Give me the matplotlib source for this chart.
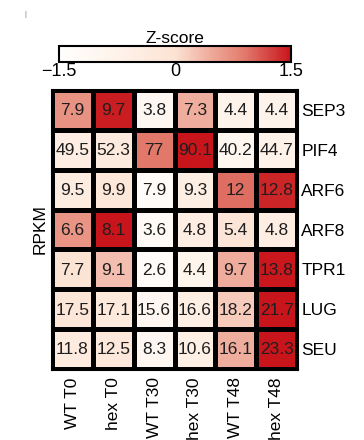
import numpy as np
import matplotlib.pyplot as plt
from matplotlib.colors import LinearSegmentedColormap

genes = ["SEP3", "PIF4", "ARF6", "ARF8", "TPR1", "LUG", "SEU"]
samples = ["WT T0", "hex T0", "WT T30", "hex T30", "WT T48", "hex T48"]

sep3 = [7.9, 9.7, 3.8, 7.3, 4.4, 4.4]
pif4 = [49.5, 52.3, 77, 90.1, 40.2, 44.7]
arf6 = [9.5, 9.9, 7.9, 9.3, 12, 12.8]
arf8 = [6.6, 8.1, 3.6, 4.8, 5.4, 4.8]
tpr1 = [7.7, 9.1, 2.6, 4.4, 9.7, 13.8]
lug = [17.5, 17.1, 15.6, 16.6, 18.2, 21.7]
seu = [11.8, 12.5, 8.3, 10.6, 16.1, 23.3]

rpkm = np.array([sep3, pif4, arf6, arf8, tpr1, lug, seu])

# row z-scores give the cell colours
z = (rpkm - rpkm.mean(axis=1, keepdims=True)) / rpkm.std(axis=1, ddof=1, keepdims=True)

cmap = LinearSegmentedColormap.from_list(
    "wr", [(0.0, "#fffefd"), (0.25, "#fef3ea"), (0.5, "#fce3d4"),
           (0.65, "#efac9c"), (0.8, "#e27a6c"), (1.0, "#c8151b")])

plt.rcParams['font.family'] = ['Liberation Sans', 'DejaVu Sans']
fs = 12.5

fig = plt.figure(figsize=(3.64, 4.40), dpi=100)

# heatmap
ax = fig.add_axes([52 / 364, 1 - 369 / 440, 245 / 364, 279 / 440])
mesh = ax.pcolormesh(z, cmap=cmap, vmin=-1.5, vmax=1.5,
                     edgecolors='black', linewidth=2.2)
ax.set_xlim(0, len(samples))
ax.set_ylim(len(genes), 0)
for i in range(len(genes)):
    for j in range(len(samples)):
        ax.text(j + 0.5, i + 0.52, "%g" % rpkm[i, j], ha='center', va='center',
                fontsize=fs, color='#1e1e1e')
ax.set_xticks(np.arange(len(samples)) + 0.5)
ax.set_xticklabels(samples, rotation=90, fontsize=fs)
ax.set_yticks(np.arange(len(genes)) + 0.5)
ax.set_yticklabels(genes, fontsize=fs)
ax.yaxis.tick_right()
ax.tick_params(axis='x', length=0, pad=6)
ax.tick_params(axis='y', length=0, pad=3)
ax.set_ylabel("RPKM", fontsize=fs, labelpad=3)
for s in ax.spines.values():
    s.set_linewidth(2.2)

# colour bar
cax = fig.add_axes([59 / 364, 1 - 62 / 440, 232 / 364, 16 / 440])
cb = fig.colorbar(mesh, cax=cax, orientation='horizontal')
cb.set_ticks([-1.5, 0, 1.5])
cb.set_ticklabels(["\u22121.5", "0", "1.5"])
cb.ax.tick_params(length=0, labelsize=13, pad=1)
cb.outline.set_linewidth(1.5)
cax.set_title("Z-score", fontsize=fs, pad=1)

fig.text(25 / 364, 1 - 14 / 440, "|", fontsize=5, color='#777777',
         ha='center', va='center')

fig.savefig("out.png", dpi=100)
